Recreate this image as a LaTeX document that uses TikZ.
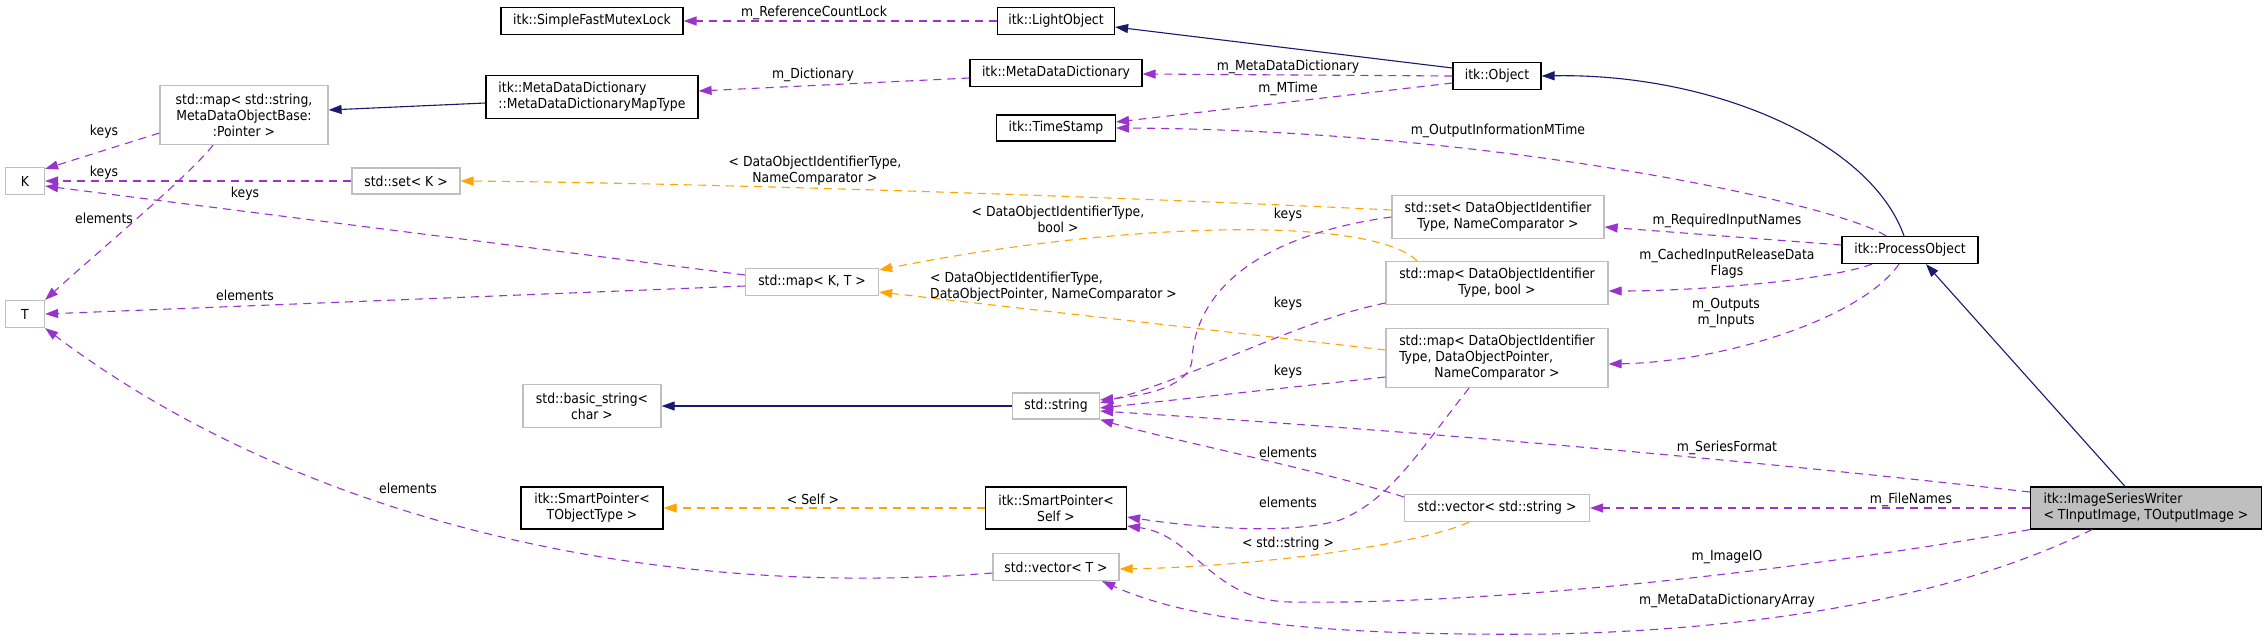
\documentclass[tikz,border=0pt]{standalone}
\usepackage{fontspec}
\setmainfont{DejaVu Sans Condensed}
\usetikzlibrary{arrows.meta}
\definecolor{usecol}{HTML}{9A32CD}
\definecolor{tplcol}{HTML}{FFA500}
\definecolor{inhcol}{HTML}{191970}
\definecolor{grayb}{HTML}{BFBFBF}
\definecolor{hlfill}{HTML}{BFBFBF}
\tikzset{
  box/.style={rectangle, inner sep=0pt, line width=1.2pt, fill=white},
  blk/.style={box, draw=black},
  gry/.style={box, draw=grayb},
  hl/.style={box, draw=black, fill=hlfill},
  usearr/.style={draw=usecol, line width=1.1pt, dash pattern=on 8pt off 6pt, -{Triangle[length=13pt,width=9pt]}},
  tplarr/.style={draw=tplcol, line width=1.1pt, dash pattern=on 8pt off 6pt, -{Triangle[length=13pt,width=9pt]}},
  inharr/.style={draw=inhcol, line width=1.1pt, -{Triangle[length=13pt,width=9pt]}},
  lbl/.style={inner sep=0pt, align=center},
}
\begin{document}
\begin{tikzpicture}[x=1pt,y=-1pt,font=\fontsize{13.8}{16}\selectfont]
\fill[white] (0,0) rectangle (2267,640);
\useasboundingbox (0,0) rectangle (2267,640);

% nodes
\node[blk, minimum width=182pt, minimum height=27pt] (smfl) at (592,21) {itk::SimpleFastMutexLock};
\node[blk, minimum width=117pt, minimum height=27pt] (light) at (1056,21) {itk::LightObject};
\node[blk, minimum width=172pt, minimum height=27pt] (mdd) at (1056,73) {itk::MetaDataDictionary};
\node[blk, minimum width=88pt, minimum height=27pt] (obj) at (1497,76) {itk::Object};
\node[blk, minimum width=119pt, minimum height=26pt] (ts) at (1056,128) {itk::TimeStamp};
\node[blk, minimum width=212pt, minimum height=43pt, align=left] (maptype) at (592,97) {itk::MetaDataDictionary\\::MetaDataDictionaryMapType};
\node[gry, minimum width=168pt, minimum height=59pt, align=center] (stdmapstr) at (244,115) {std::map< std::string,\\ MetaDataObjectBase:\\:Pointer >};
\node[gry, minimum width=39pt, minimum height=27pt] (K) at (25,181) {K};
\node[gry, minimum width=39pt, minimum height=27pt] (T) at (25,314) {T};
\node[gry, minimum width=108pt, minimum height=26pt] (setK) at (406,181) {std::set< K >};
\node[gry, minimum width=133pt, minimum height=27pt] (mapKT) at (812,282) {std::map< K, T >};
\node[gry, minimum width=212pt, minimum height=43pt, align=center] (setDOI) at (1498,217) {std::set< DataObjectIdentifier\\Type, NameComparator >};
\node[gry, minimum width=222pt, minimum height=43pt, align=center] (mapDOIbool) at (1497,283) {std::map< DataObjectIdentifier\\Type, bool >};
\node[gry, minimum width=222pt, minimum height=59pt, align=center] (mapDOIptr) at (1497,358) {std::map< DataObjectIdentifier\\\rlap{Type, DataObjectPointer,}\phantom{std::map< DataObjectIdentifier}\\NameComparator >};
\node[blk, minimum width=136pt, minimum height=27pt] (po) at (1910,250) {itk::ProcessObject};
\node[gry, minimum width=87pt, minimum height=26pt] (str) at (1056,406) {std::string};
\node[gry, minimum width=138pt, minimum height=43pt, align=center] (bstr) at (592,406) {std::basic\_string<\\char >};
\node[blk, minimum width=142pt, minimum height=42pt, align=center] (sptObj) at (592,508) {itk::SmartPointer<\\TObjectType >};
\node[blk, minimum width=141pt, minimum height=42pt, align=center] (sptSelf) at (1056,508) {itk::SmartPointer<\\Self >};
\node[gry, minimum width=126pt, minimum height=27pt] (vecT) at (1056,567) {std::vector< T >};
\node[gry, minimum width=185pt, minimum height=27pt] (vecStr) at (1497,508) {std::vector< std::string >};
\node[hl, minimum width=231pt, minimum height=42pt, align=left] (isw) at (2146,508) {itk::ImageSeriesWriter\\< TInputImage, TOutputImage >};

% edges
\draw[usearr] (light.west) -- (smfl.east);
\draw[inharr] ([yshift=8pt]obj.west) -- ([yshift=-6pt]light.east);
\draw[usearr] (obj.west) -- ([yshift=-1pt]mdd.east);
\draw[usearr] ([yshift=-5pt]mdd.west) -- ([yshift=6pt]maptype.east);
\draw[inharr] ([yshift=-6pt]maptype.west) -- ([yshift=5pt]stdmapstr.east);
\draw[usearr] ([yshift=-7pt]obj.west) -- ([yshift=6pt]ts.east);
\draw[usearr] ([xshift=-24pt]po.north) .. controls (1840,205) and (1500,130) .. (ts.east);
\draw[inharr] ([xshift=-6pt]po.north) .. controls (1870,140) and (1710,73) .. (obj.east);
\draw[inharr] ([xshift=-21pt]isw.north) -- ([xshift=16pt]po.south);
\draw[usearr] ([yshift=-18pt]stdmapstr.west) -- ([yshift=-2pt]K.north east);
\draw[usearr] ([xshift=-31pt]stdmapstr.south) .. controls (190,175) and (100,250) .. (T.north east);
\draw[usearr] (setK.west) -- (K.east);
\draw[usearr] ([yshift=7pt]mapKT.west) -- ([yshift=-5pt]K.east);
\draw[usearr] ([yshift=-4pt]mapKT.west) -- (T.east);
\draw[tplarr] ([yshift=7pt]setDOI.west) .. controls (1100,196) and (700,183) .. (setK.east);
\draw[tplarr] ([xshift=-80pt]mapDOIbool.north) .. controls (1370,215) and (1120,222) .. ([yshift=12pt]mapKT.east);
\draw[tplarr] ([yshift=8pt]mapDOIptr.west) -- ([yshift=-10pt]mapKT.east);
\draw[usearr] ([yshift=5pt]po.west) -- ([yshift=-10pt]setDOI.east);
\draw[usearr] ([xshift=-38pt]po.south) .. controls (1830,280) and (1700,291) .. ([yshift=-8pt]mapDOIbool.east);
\draw[usearr] ([xshift=-11pt]po.south) .. controls (1860,320) and (1720,362) .. ([yshift=-6pt]mapDOIptr.east);
\draw[usearr] (setDOI.west) .. controls (1260,235) and (1195,290) .. (1192,360) .. controls (1190,385) and (1150,395) .. ([yshift=6pt]str.east);
\draw[usearr] ([yshift=-20pt]mapDOIbool.west) .. controls (1300,320) and (1200,375) .. ([yshift=3pt]str.east);
\draw[usearr] ([yshift=-19pt]mapDOIptr.west) -- ([yshift=-2pt]str.east);
\draw[inharr] (str.west) -- (bstr.east);
\draw[usearr] ([yshift=16pt]isw.west) .. controls (1700,455) and (1400,430) .. ([yshift=-5pt]str.east);
\draw[usearr] ([yshift=11pt]vecStr.west) .. controls (1320,470) and (1170,440) .. (str.south east);
\draw[usearr] (isw.west) -- (vecStr.east);
\draw[usearr] ([xshift=-28pt]mapDOIptr.south) .. controls (1420,450) and (1390,500) .. (1340,520) .. controls (1290,535) and (1200,528) .. ([yshift=-9pt]sptSelf.east);
\draw[tplarr] (sptSelf.west) -- (sptObj.east);
\draw[usearr] (isw.south west) .. controls (1800,570) and (1500,605) .. (1290,602) .. controls (1210,600) and (1195,535) .. ([yshift=-18pt]sptSelf.east);
\draw[tplarr] ([xshift=-28pt]vecStr.south) .. controls (1420,545) and (1250,567) .. ([yshift=-2pt]vecT.east);
\draw[usearr] ([xshift=-54pt]isw.south) .. controls (1950,600) and (1750,630) .. (1550,634) .. controls (1350,636) and (1200,625) .. ([xshift=46pt]vecT.south);
\draw[usearr] ([yshift=-6pt]vecT.west) .. controls (650,600) and (300,520) .. (T.south east);

% labels
\node[lbl] (l1) at (814,13) {m\_ReferenceCountLock};
\node[lbl] (l3) at (1288,67) {m\_MetaDataDictionary};
\node[lbl] (l4) at (813,75) {m\_Dictionary};
\node[lbl] (l6) at (1288,89) {m\_MTime};
\node[lbl] (l7) at (1498,131) {m\_OutputInformationMTime};
\node[lbl] (l10) at (104,132) {keys};
\node[lbl] (l11) at (104,218) {elements};
\node[lbl] (l12) at (104,173) {keys};
\node[lbl] (l13) at (245,194) {keys};
\node[lbl] (l14) at (245,295) {elements};
\node[lbl] (l15) at (815,171) {< DataObjectIdentifierType,\\NameComparator >};
\node[lbl] (l16) at (1058,219) {< DataObjectIdentifierType,\\bool >};
\node[lbl, align=left, anchor=west] (l17) at (930,287) {< DataObjectIdentifierType,\\DataObjectPointer, NameComparator >};
\node[lbl] (l18) at (1727,221) {m\_RequiredInputNames};
\node[lbl] (l19) at (1727,264) {m\_CachedInputReleaseData\\Flags};
\node[lbl] (l20) at (1726,313) {m\_Outputs\\m\_Inputs};
\node[lbl] (l21) at (1288,215) {keys};
\node[lbl] (l22) at (1288,304) {keys};
\node[lbl] (l23) at (1288,372) {keys};
\node[lbl] (l25) at (1727,448) {m\_SeriesFormat};
\node[lbl] (l26) at (1288,452) {elements};
\node[lbl] (l27) at (1911,500) {m\_FileNames};
\node[lbl] (l28) at (1288,502) {elements};
\node[lbl] (l29) at (813,499) {< Self >};
\node[lbl] (l30) at (1727,557) {m\_ImageIO};
\node[lbl] (l31) at (1288,544) {< std::string >};
\node[lbl] (l32) at (1727,601) {m\_MetaDataDictionaryArray};
\node[lbl] (l33) at (408,488) {elements};
\end{tikzpicture}
\end{document}
